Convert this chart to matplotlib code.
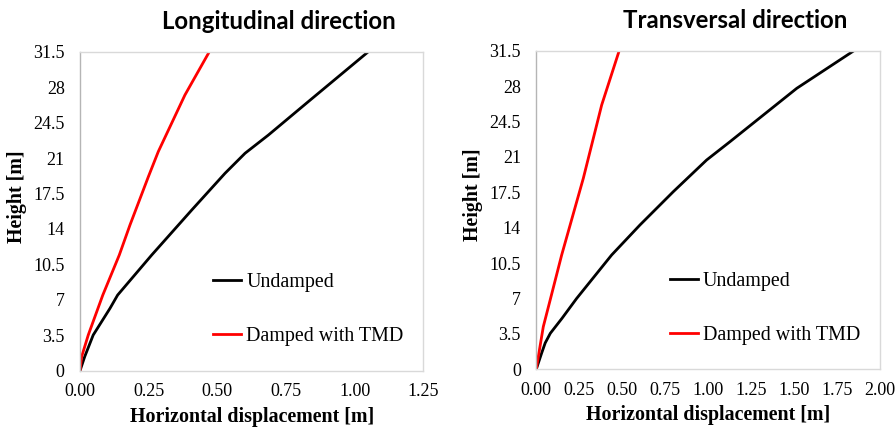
import numpy as np
import matplotlib
matplotlib.use("Agg")
import matplotlib.pyplot as plt
from matplotlib.ticker import FormatStrFormatter, FuncFormatter

# longitudinal direction: height [m] vs horizontal displacement [m]
long_und_h = [0, 1.38, 3.52, 6.15, 7.47, 11.42, 15.87, 19.49, 21.47, 23.27, 26.56, 31.5]
long_und_x = [0, 0.017, 0.048, 0.109, 0.137, 0.261, 0.407, 0.528, 0.601, 0.686, 0.831, 1.050]
long_dmp_h = [0, 1.39, 3.52, 7.47, 11.42, 14.39, 19.16, 21.63, 27.22, 31.5]
long_dmp_x = [0, 0.006, 0.030, 0.083, 0.143, 0.182, 0.249, 0.285, 0.382, 0.471]

# transversal direction
trans_und_h = [0, 1.58, 2.6, 3.56, 5.04, 7.0, 11.30, 14.27, 17.56, 20.69, 22.50, 27.78, 31.5]
trans_und_x = [0, 0.031, 0.052, 0.082, 0.150, 0.235, 0.439, 0.604, 0.798, 0.992, 1.128, 1.517, 1.850]
trans_dmp_h = [0, 1.25, 4.21, 6.85, 11.30, 18.88, 26.13, 31.5]
trans_dmp_x = [0, 0.012, 0.041, 0.081, 0.148, 0.274, 0.381, 0.483]

titles = ["Longitudinal direction", "Transversal direction"]
xmax = [1.25, 2.00]
yticks = np.arange(0, 31.5 + 0.1, 3.5)

serif = "Liberation Serif"

fig = plt.figure(figsize=(8.96, 4.30), dpi=100)
ax1 = fig.add_axes([0.0893, 0.1379, 0.3831, 0.7419])
ax2 = fig.add_axes([0.5985, 0.1412, 0.3833, 0.7409])

panels = [
    (ax1, long_und_x, long_und_h, long_dmp_x, long_dmp_h),
    (ax2, trans_und_x, trans_und_h, trans_dmp_x, trans_dmp_h),
]
leg_y = [0.306, 0.305]

for i, (ax, ux, uh, dx, dh) in enumerate(panels):
    ax.plot(ux, uh, color="black", lw=2, label="Undamped",
            solid_joinstyle="round")
    ax.plot(dx, dh, color="#ff0000", lw=2, label="Damped with TMD",
            solid_joinstyle="round")

    ax.set_xlim(0, xmax[i])
    ax.set_ylim(0, 31.5)
    ax.set_xticks(np.arange(0, xmax[i] + 0.01, 0.25))
    ax.set_yticks(yticks)
    ax.xaxis.set_major_formatter(FormatStrFormatter("%.2f"))
    ax.yaxis.set_major_formatter(FuncFormatter(lambda v, p: "%g" % v))
    ax.tick_params(length=0, labelsize=13)
    ax.tick_params(axis="x", pad=9)
    ax.tick_params(axis="y", pad=11)
    for lab in ax.get_xticklabels() + ax.get_yticklabels():
        lab.set_fontfamily(serif)

    for s in ax.spines.values():
        s.set_color("#d9d9d9")
        s.set_linewidth(1)
    ax.spines["left"].set_color("#b5b5b5")

    ax.set_xlabel("Horizontal displacement [m]", fontfamily=serif,
                  fontweight="bold", fontsize=14.4)
    ax.set_ylabel("Height [m]", fontfamily=serif, fontweight="bold",
                  fontsize=14.4)
    ax.xaxis.set_label_coords(0.5, -0.113)
    ax.yaxis.set_label_coords(-0.154, 0.547)
    ax.set_title(titles[i], fontfamily="Lato", fontweight="bold",
                 fontsize=17.3, pad=16, x=0.58)

    ax.legend(loc="upper left", bbox_to_anchor=(0.388, leg_y[i]),
              frameon=False, borderaxespad=0, borderpad=0,
              handlelength=1.4, handletextpad=0.25, labelspacing=1.73,
              prop={"family": serif, "size": 14.4})

fig.savefig("out.png", dpi=100)
